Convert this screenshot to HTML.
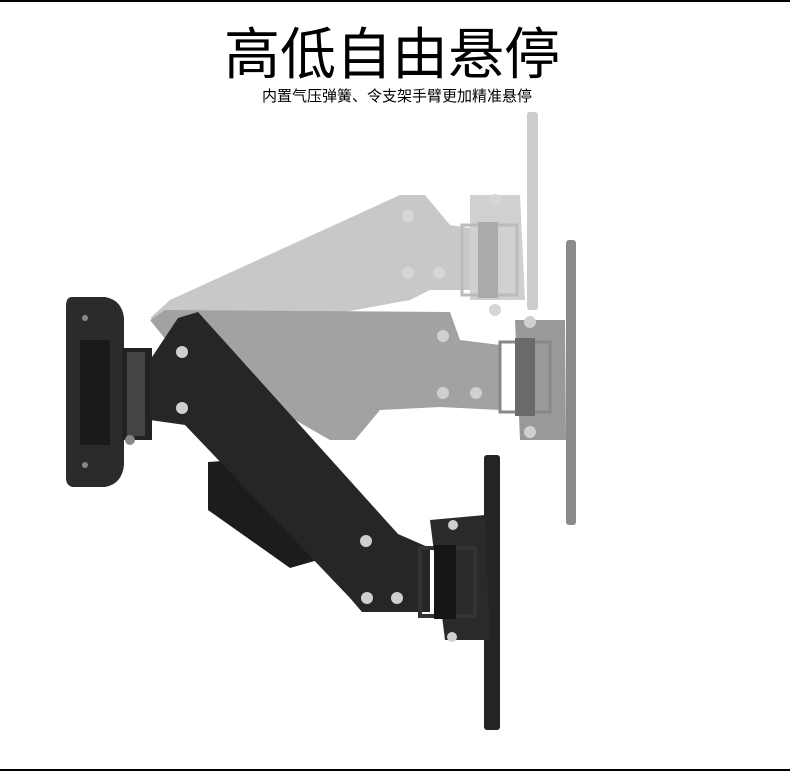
<!DOCTYPE html>
<html><head><meta charset="utf-8"><style>
html,body{margin:0;padding:0;background:#fff;}
body{width:790px;height:784px;position:relative;overflow:hidden;}
.t{position:absolute;left:0;width:790px;text-align:center;font-family:"Liberation Sans","Noto Sans CJK SC",sans-serif;color:#000;}
</style></head><body>
<div style="position:absolute;left:0;top:0;width:790px;height:2px;background:#000"></div>
<div style="position:absolute;left:0;top:769px;width:790px;height:2px;background:#000"></div>
<div class="t" style="top:22px;font-size:56px;line-height:66px;letter-spacing:0px;left:-3px;">高低自由悬停</div>
<div class="t" style="top:87px;font-size:15px;line-height:20px;left:2px;">内置气压弹簧、令支架手臂更加精准悬停</div>
<svg width="790" height="784" style="position:absolute;left:0;top:0">
<!-- top ghost -->
<g fill="#c8c8c8">
<rect x="527" y="112" width="11" height="198" rx="3" fill="#cdcdcd"/>
<polygon points="150,318 170,300 400,195 425,195 450,225 470,228 470,290 430,290 410,300 300,320 200,325"/>
<polygon points="470,195 520,195 525,300 470,300" fill="#d0d0d0"/>
<rect x="462" y="225" width="55" height="70" fill="none" stroke="#bbb" stroke-width="3"/>
<rect x="478" y="222" width="20" height="76" fill="#aaa"/>
</g>
<g fill="#d6d6d6"><circle cx="408" cy="216" r="6"/><circle cx="408" cy="273" r="6"/><circle cx="439" cy="273" r="6"/><circle cx="495" cy="200" r="6"/><circle cx="495" cy="310" r="6"/></g>
<!-- middle ghost -->
<g fill="#a2a2a2">
<rect x="566" y="240" width="10" height="285" rx="3" fill="#8a8a8a"/>
<polygon points="150,320 165,310 450,312 460,340 500,345 500,410 440,407 380,410 355,440 330,440 260,400 190,370"/>
<polygon points="515,320 565,320 566,440 520,440" fill="#999"/>
<rect x="500" y="342" width="50" height="70" fill="none" stroke="#888" stroke-width="3"/>
<rect x="515" y="338" width="20" height="78" fill="#6a6a6a"/>
</g>
<g fill="#d0d0d0"><circle cx="443" cy="336" r="6"/><circle cx="443" cy="393" r="6"/><circle cx="476" cy="393" r="6"/><circle cx="530" cy="322" r="6"/><circle cx="530" cy="432" r="6"/></g>
<!-- wall plate -->
<path d="M72,297 L105,297 Q122,300 124,318 L124,465 Q122,484 105,487 L72,487 Q66,485 66,478 L66,306 Q66,297 72,297Z" fill="#2b2b2b"/>
<rect x="80" y="340" width="30" height="105" fill="#1a1a1a"/>
<rect x="122" y="348" width="30" height="92" fill="#222"/>
<rect x="127" y="352" width="18" height="84" fill="#444"/>
<g fill="#888"><circle cx="85" cy="318" r="3"/><circle cx="85" cy="465" r="3"/><circle cx="130" cy="440" r="5"/></g>
<!-- gas spring -->
<polygon points="208,462 238,460 318,560 290,568 208,510" fill="#1c1c1c"/>
<!-- main arm -->
<polygon points="150,360 178,318 198,312 398,534 430,548 430,612 362,612 350,598 185,425 150,420" fill="#262626"/>
<!-- lower plate -->
<rect x="484" y="455" width="16" height="275" rx="3" fill="#242424"/>
<polygon points="430,520 485,515 490,640 445,640" fill="#2a2a2a"/>
<rect x="420" y="548" width="55" height="68" fill="none" stroke="#333" stroke-width="4"/>
<rect x="434" y="545" width="22" height="74" fill="#151515"/>
<g fill="#cfcfcf"><circle cx="182" cy="352" r="6"/><circle cx="182" cy="408" r="6"/><circle cx="366" cy="541" r="6"/><circle cx="367" cy="598" r="6"/><circle cx="397" cy="598" r="6"/><circle cx="453" cy="525" r="5"/><circle cx="452" cy="637" r="5"/></g>
</svg>
</body></html>
